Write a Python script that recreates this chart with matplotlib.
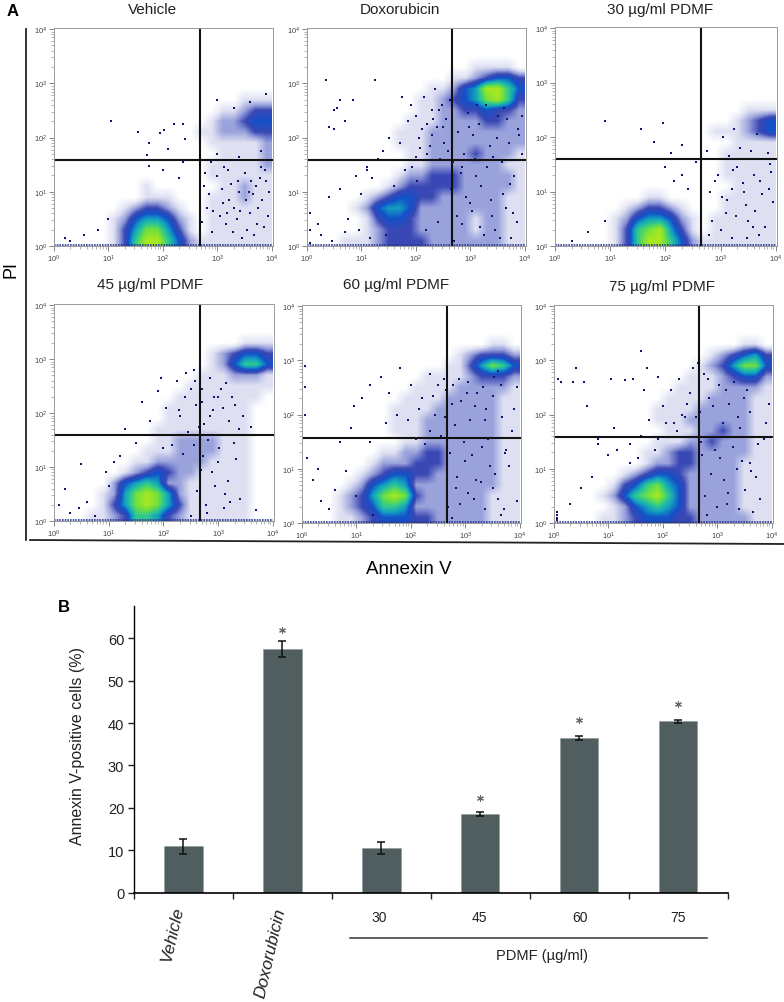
import matplotlib
matplotlib.use("Agg")
import matplotlib.pyplot as plt
import numpy as np
from matplotlib.colors import LinearSegmentedColormap

plt.rcParams['font.family'] = ['Liberation Sans', 'DejaVu Sans']
plt.rcParams['mathtext.default'] = 'regular'

W, H = 784, 1003

# density: rows run from PI 10^4 down to 10^0, columns
# from Annexin 10^0 to 10^4, 0.2 decades per cell
vehicle_grid = [
    "00000000000000000000", "00000000000000000000", "00000000000000000000", "00000000000000000000",
    "00000000000000000000", "00000000000000000000", "00000000000000000111", "00000000000000011233",
    "00000000000000122344", "00000000000001122233", "00000000000000111112", "00000000000000011112",
    "00000000000000111112", "00000000000000111111", "00000000100000011211", "00000000111000111211",
    "00000012332100111111", "00000124554210111111", "00000135775310111111", "00000136886421111111",
]
dox_grid = [
    "00000000000000000000", "00000000000000000000", "00000000000000000000", "00000000000000011110",
    "00000000000001123443", "00000000000112458864", "00000000001123457863", "00000000001122334332",
    "00000000011122223322", "00000000111222222222", "00000000111222222222", "00000000011222232221",
    "00000000011222222211", "00000000122333222221", "00000001233333222221", "00000123443322222211",
    "00001245542222222211", "00000134432222212211", "00000123332222212211", "00011123333222222211",
]
pdmf30_grid = [
    "00000000000000000000", "00000000000000000000", "00000000000000000000", "00000000000000000000",
    "00000000000000000000", "00000000000000000000", "00000000000000000000", "00000000000000000111",
    "00000000000000001234", "00000000000000111234", "00000000000000001111", "00000000000000011111",
    "00000000000000011111", "00000000000000011111", "00000000000000001111", "00000000110000011111",
    "00000012332100011111", "00000124554210111111", "00000136785310111111", "00000136886421111111",
]
pdmf45_grid = [
    "00000000000000000000", "00000000000000000000", "00000000000000000000", "00000000000000000111",
    "00000000000000123443", "00000000000000124664", "00000000000001112221", "00000000000011111111",
    "00000000000111111110", "00000000001111111100", "00000000001111111100", "00000000011111111100",
    "00000000011222211100", "00000000111222211100", "00000001122222111100", "00000012343221111100",
    "00000245652211111100", "00001257875211111100", "00001357875311111100", "00011236653211111100",
]
pdmf60_grid = [
    "00000000000000000000", "00000000000000000000", "00000000000000000000", "00000000000000000110",
    "00000000000000123332", "00000000000001135764", "00000000000111123332", "00000000001111222221",
    "00000000011112222211", "00000000111122222211", "00000000111222222211", "00000000111222222211",
    "00000000011222222211", "00000001122332222211", "00000012223332222211", "00000123443322222211",
    "00001245652222222211", "00012357873222222111", "00012346652222222111", "00011234443322222111",
]
pdmf75_grid = [
    "00000000000000000000", "00000000000000000000", "00000000000000000000", "00000000000000000110",
    "00000000000000123453", "00000000000001235774", "00000000000011123442", "00000000000111122221",
    "00000000001111222211", "00000000011112222211", "00000000011122222211", "00000000001112232211",
    "00000000011122322211", "00000000112332222211", "00000000122332222111", "00000012344322222111",
    "00000134675422222111", "00001246786422222111", "00000124565422222111", "00001123444332222211",
]

# single events outside the dense regions, log10 units
vehicle_x = [1.05, 1.55, 1.75, 1.7, 2.02, 2.2, 2.37, 2.4, 1.95, 2.1, 2.37, 1.75, 2.0, 2.3, 2.75, 2.85, 3.0, 3.1, 3.2, 3.3, 3.4, 3.5, 3.6, 3.7, 3.8, 3.9, 3.15, 3.35, 3.55, 3.75, 3.95, 2.9, 3.05, 3.25, 3.45, 3.65, 3.85, 2.8, 3.0, 3.3, 3.6, 3.9, 0.3, 0.55, 0.8, 1.0, 0.2, 3.0, 3.4, 3.8, 2.72, 2.92, 3.12, 3.22, 3.42, 3.62, 3.72, 3.82, 2.78, 3.08, 3.28, 3.52, 3.78, 3.92, 2.88, 3.18, 3.38, 3.58, 3.68, 3.88]
vehicle_y = [2.3, 2.1, 1.9, 1.67, 2.13, 2.25, 2.25, 1.97, 2.08, 1.78, 1.55, 1.47, 1.4, 1.25, 1.1, 0.95, 1.3, 0.8, 1.4, 0.7, 1.0, 1.35, 0.6, 1.1, 1.45, 1.2, 0.4, 0.5, 0.3, 0.7, 1.0, 0.25, 0.55, 1.15, 0.15, 0.95, 0.35, 0.7, 2.7, 2.55, 2.65, 2.8, 0.1, 0.2, 0.3, 0.5, 0.15, 1.7, 1.65, 1.75, 0.45, 0.65, 1.45, 0.85, 0.65, 1.2, 0.4, 0.85, 1.35, 1.05, 0.25, 0.85, 1.25, 0.55, 1.55, 0.6, 1.2, 1.0, 0.2, 1.4]
dox_x = [0.35, 0.55, 0.5, 0.7, 1.25, 0.85, 0.6, 0.4, 0.5, 1.1, 1.6, 1.75, 1.9, 2.0, 2.2, 1.5, 1.7, 2.3, 1.4, 1.3, 1.1, 0.9, 0.6, 0.4, 0.2, 0.05, 0.05, 0.05, 0.75, 0.95, 1.15, 1.45, 1.85, 2.05, 2.15, 2.35, 2.45, 2.55, 2.7, 2.85, 3.0, 3.2, 3.4, 3.6, 3.8, 3.95, 0.25, 0.45, 0.7, 1.0, 1.2, 2.85, 3.05, 3.25, 3.45, 3.65, 3.85, 3.95, 3.9, 3.75, 2.75, 2.92, 3.1, 3.3, 3.55, 3.72, 2.65, 2.82, 3.02, 3.18, 3.38, 3.58, 3.78, 2.58, 2.78, 2.95, 3.15, 3.35, 3.5, 3.7, 3.88, 2.62, 2.88, 3.08, 3.28, 3.48, 3.68, 2.5, 2.68, 2.98, 3.12, 3.42, 3.62, 2.2, 2.3, 2.42, 2.52, 2.0, 2.12, 2.25, 2.38, 1.92, 2.08, 2.32, 2.48, 1.8, 2.02, 2.18, 2.4]
dox_y = [3.07, 2.55, 2.5, 2.3, 3.07, 2.7, 2.7, 2.2, 2.15, 1.45, 1.1, 2.75, 2.6, 2.4, 2.25, 2.0, 1.9, 2.5, 1.75, 1.6, 1.4, 1.3, 1.05, 0.9, 0.4, 0.3, 0.6, 0.05, 0.5, 0.3, 0.15, 0.2, 2.3, 2.0, 2.75, 2.9, 1.6, 2.35, 0.1, 0.4, 0.8, 1.1, 0.55, 0.95, 1.3, 1.7, 0.2, 0.1, 0.25, 0.95, 1.25, 1.45, 2.05, 0.2, 0.3, 0.7, 0.45, 2.4, 2.05, 0.15, 0.55, 0.9, 1.3, 1.45, 0.15, 1.15, 1.05, 1.35, 0.65, 0.35, 0.85, 1.55, 0.6, 1.75, 2.1, 2.45, 2.25, 1.85, 2.4, 1.9, 2.15, 2.7, 1.7, 1.6, 2.6, 2.0, 2.35, 2.2, 1.55, 2.2, 2.6, 1.65, 2.55, 1.7, 2.05, 2.5, 1.9, 1.65, 2.15, 1.85, 2.2, 1.45, 1.8, 2.35, 2.6, 1.4, 1.2, 0.3, 0.45]
pdmf30_x = [0.9, 1.55, 1.8, 1.95, 2.1, 2.3, 2.55, 2.3, 2.15, 2.0, 2.4, 2.8, 2.95, 3.1, 3.2, 3.3, 3.45, 3.6, 3.75, 3.9, 3.0, 3.2, 3.5, 3.7, 3.95, 2.85, 3.35, 3.55, 3.85, 0.3, 0.6, 0.9, 3.05, 3.25, 3.65, 2.75, 3.15, 3.4, 3.8, 2.9, 3.12, 3.28, 3.42, 3.58, 3.72, 3.88, 2.78, 3.02, 3.22, 3.48, 3.62, 3.92]
pdmf30_y = [2.3, 2.15, 1.9, 2.25, 1.7, 1.85, 1.55, 1.3, 1.2, 1.45, 1.05, 1.0, 1.3, 0.6, 1.05, 1.45, 0.75, 1.3, 0.95, 1.5, 0.3, 0.15, 0.45, 0.2, 0.8, 0.45, 1.8, 1.75, 1.7, 0.1, 0.25, 0.45, 2.0, 2.15, 2.05, 1.75, 1.65, 1.15, 0.35, 1.2, 0.85, 0.55, 1.0, 0.35, 1.2, 1.05, 0.2, 0.9, 1.4, 0.15, 0.65, 1.35]
pdmf45_x = [0.1, 0.2, 0.3, 0.45, 0.6, 0.75, 1.0, 1.1, 1.35, 1.6, 1.75, 1.9, 2.05, 2.25, 2.4, 2.55, 2.7, 2.85, 3.0, 3.15, 3.3, 3.45, 3.6, 2.3, 2.45, 2.6, 2.75, 2.9, 3.05, 3.2, 1.95, 2.15, 1.5, 1.2, 2.5, 2.8, 3.1, 3.4, 3.7, 0.95, 1.3, 0.5, 2.72, 2.88, 3.02, 3.18, 3.32, 2.62, 2.78, 2.95, 3.12, 3.28, 2.55, 2.68, 2.82, 3.0, 3.22, 3.38, 2.65, 2.92, 3.08, 2.35, 2.5, 2.15, 2.0, 2.28, 2.42, 2.58, 2.7, 2.85, 3.05, 3.25]
pdmf45_y = [0.3, 0.6, 0.15, 0.25, 0.35, 0.1, 0.65, 1.1, 1.6, 2.2, 1.85, 2.4, 2.1, 2.6, 2.3, 2.8, 2.45, 2.65, 2.3, 2.55, 2.15, 1.95, 1.75, 1.95, 1.65, 2.15, 1.8, 2.05, 1.6, 1.85, 2.65, 1.4, 1.45, 1.2, 0.1, 0.15, 0.25, 0.4, 0.2, 0.9, 1.7, 1.05, 1.2, 0.9, 1.35, 0.75, 1.15, 0.55, 0.3, 0.65, 0.5, 1.45, 1.4, 0.95, 1.5, 1.1, 0.35, 1.7, 1.75, 2.3, 2.1, 1.25, 2.45, 1.6, 1.35, 2.05, 2.75, 2.6, 2.2, 1.95, 2.45, 2.3]
pdmf60_x = [0.05, 0.05, 0.05, 0.1, 0.2, 0.35, 0.5, 0.7, 0.9, 1.1, 1.25, 0.95, 1.45, 1.6, 1.8, 2.0, 2.2, 2.35, 2.5, 1.25, 1.55, 1.75, 1.95, 2.15, 2.4, 2.6, 2.75, 2.9, 3.05, 3.2, 3.35, 3.5, 3.65, 3.8, 3.95, 0.6, 0.8, 1.0, 1.3, 0.3, 3.95, 3.9, 3.85, 3.75, 3.6, 2.72, 2.85, 3.0, 3.15, 3.3, 3.45, 3.6, 3.72, 2.68, 2.82, 2.98, 3.12, 3.28, 3.42, 3.55, 3.7, 2.78, 2.92, 3.08, 3.22, 3.38, 3.52, 3.68, 2.62, 2.75, 2.88, 3.02, 3.18, 3.32, 2.45, 2.55, 2.35, 2.25, 2.1, 2.65, 2.8, 3.05, 3.35, 3.5, 3.65]
pdmf60_y = [2.9, 2.5, 2.0, 1.2, 0.8, 0.4, 0.25, 1.5, 1.75, 2.3, 2.55, 2.15, 2.7, 2.4, 2.85, 2.55, 2.3, 2.75, 2.55, 1.5, 1.85, 2.0, 1.9, 2.1, 2.35, 2.65, 0.1, 0.35, 0.55, 0.8, 0.25, 0.65, 0.15, 1.05, 0.4, 0.6, 0.95, 0.5, 0.15, 1.0, 2.5, 2.1, 1.7, 1.35, 2.8, 1.3, 0.85, 1.15, 0.45, 1.4, 1.05, 0.45, 1.3, 0.3, 0.65, 1.5, 1.25, 0.75, 1.55, 0.9, 0.25, 2.55, 2.25, 1.9, 2.4, 2.1, 2.7, 1.95, 1.95, 2.2, 2.65, 2.4, 2.15, 2.5, 2.0, 1.6, 1.7, 1.45, 1.55, 2.45, 1.8, 2.6, 1.9, 2.35, 2.55]
pdmf75_x = [0.08, 0.12, 0.4, 0.35, 0.55, 0.6, 1.3, 1.6, 1.45, 1.7, 1.65, 1.05, 0.8, 1.1, 1.4, 1.6, 1.75, 1.9, 2.0, 2.15, 2.3, 2.45, 2.55, 2.65, 1.9, 2.05, 2.25, 2.4, 0.8, 1.0, 1.15, 1.4, 1.55, 1.85, 0.5, 0.7, 0.3, 0.05, 0.05, 0.05, 0.05, 3.95, 3.9, 3.75, 3.6, 2.8, 3.0, 3.2, 3.4, 3.7, 2.72, 2.88, 3.05, 3.18, 3.35, 3.5, 3.65, 2.78, 2.95, 3.12, 3.28, 3.45, 3.62, 3.78, 2.68, 2.85, 3.02, 3.22, 3.38, 3.55, 2.75, 2.92, 3.1, 3.3, 3.48, 2.6, 2.5, 2.35, 2.2, 2.7, 2.82, 3.15, 3.42, 3.6, 3.85]
pdmf75_y = [2.65, 2.6, 2.85, 2.6, 2.6, 2.15, 2.63, 3.17, 2.65, 2.85, 2.45, 2.65, 1.55, 1.75, 1.45, 1.6, 1.9, 2.7, 2.15, 2.45, 2.65, 2.2, 2.85, 2.95, 1.55, 1.85, 1.7, 1.95, 1.45, 1.25, 1.35, 1.1, 1.2, 1.35, 0.65, 0.85, 0.35, 0.2, 0.1, 0.15, 0.05, 2.2, 1.85, 1.45, 1.1, 0.15, 0.3, 0.55, 0.25, 0.85, 1.25, 0.9, 1.2, 0.35, 1.0, 0.6, 0.2, 0.5, 1.35, 0.8, 1.4, 1.15, 0.95, 0.45, 2.05, 2.3, 2.55, 2.2, 1.95, 2.45, 2.75, 2.15, 1.85, 2.6, 2.3, 1.95, 2.4, 2.0, 1.85, 1.5, 2.65, 2.45, 1.75, 2.05, 1.55]

panel_titles = ["Vehicle", "Doxorubicin", "30 µg/ml PDMF", "45 µg/ml PDMF", "60 µg/ml PDMF", "75 µg/ml PDMF"]
panel_grids = [vehicle_grid, dox_grid, pdmf30_grid, pdmf45_grid, pdmf60_grid, pdmf75_grid]
panel_x = [vehicle_x, dox_x, pdmf30_x, pdmf45_x, pdmf60_x, pdmf75_x]
panel_y = [vehicle_y, dox_y, pdmf30_y, pdmf45_y, pdmf60_y, pdmf75_y]
# left, right, top, bottom, vertical gate, horizontal gate (pixels)
panel_boxes = [(54, 273, 29, 247, 200, 161), (307, 526, 29, 247, 452, 161), (555, 777, 28, 247, 701, 160),
               (54, 274, 305, 522, 200, 436), (302, 521, 306, 524, 447, 439), (554, 773, 306, 524, 699, 438)]
title_pos = [(153, 10), (400, 10), (660, 10), (150, 285), (396, 285), (662, 287)]

bar_labels = ["30", "45", "60", "75"]
bar_values = [10.9, 57.5, 10.5, 18.5, 36.5, 40.4]
bar_errors = [1.7, 1.9, 1.4, 0.5, 0.5, 0.3]
star_idx = [1, 3, 4, 5]
star_y = [62.0, 22.3, 40.7, 44.4]

dot_cmap = LinearSegmentedColormap.from_list(
    "flow", ["#ffffff", "#dfe1f3", "#9aa3dc", "#3a48b4", "#1450c8", "#12a0c0", "#30c890", "#70e040", "#a8e820"])


def add_ax(left, right, top, bottom):
    return fig.add_axes([left / W, 1 - bottom / H, (right - left) / W, (bottom - top) / H])


fig = plt.figure(figsize=(W / 100, H / 100), dpi=100)

minor = np.log10([2, 3, 4, 5, 6, 7, 8, 9])
minor_ticks = np.concatenate([minor + d for d in range(4)])
for i in range(6):
    left, right, top, bottom, vgate, hgate = panel_boxes[i]
    ax = add_ax(left, right, top, bottom)
    grid = np.array([[int(c) for c in row] for row in panel_grids[i]])
    ax.imshow(grid, extent=(0, 4, 0, 4), origin="upper", cmap=dot_cmap, vmin=0, vmax=8,
              interpolation="bilinear", aspect="auto")
    ax.scatter(panel_x[i], panel_y[i], s=4, marker="s", color="#14146e", linewidths=0)
    ax.plot([0, 4], [0.01, 0.01], color="#2a3a90", lw=1.2, ls=(0, (1, 0.6)))
    ax.set_xlim(0, 4.02)
    ax.set_ylim(0, 4.02)
    ax.axvline((vgate - left) / (right - left) * 4.02, color="#111111", lw=1.5)
    ax.axhline((bottom - hgate) / (bottom - top) * 4.02, color="#111111", lw=1.5)
    for s in ax.spines.values():
        s.set_color("#9a9a9a")
        s.set_linewidth(0.7)
    ax.set_xticks(range(5))
    ax.set_yticks(range(5))
    ax.set_xticklabels([f"$10^{d}$" for d in range(5)])
    ax.set_yticklabels([f"$10^{d}$" for d in range(5)])
    ax.set_xticks(minor_ticks, minor=True)
    ax.set_yticks(minor_ticks, minor=True)
    ax.tick_params(which="major", length=3.5, width=0.5, color="#555555", labelsize=5.5,
                   labelcolor="#444444", pad=1.5)
    ax.tick_params(which="minor", length=2, width=0.4, color="#777777")
    fig.text(title_pos[i][0] / W, 1 - title_pos[i][1] / H, panel_titles[i], ha="center", va="center",
             fontsize=11, color="#222222")

# frame lines of panel A
fig.add_artist(plt.Line2D([26 / W, 26 / W], [1 - 30 / H, 1 - 541 / H], color="#222222", lw=1.3))
fig.add_artist(plt.Line2D([30 / W, 784 / W], [1 - 541 / H, 1 - 545 / H], color="#222222", lw=1.3))
fig.text(7 / W, 1 - 12 / H, "A", fontsize=12, fontweight="bold", ha="left", va="center")
fig.text(11 / W, 1 - 270 / H, "PI", rotation=90, fontsize=13, ha="center", va="center")
fig.text(409 / W, 1 - 569 / H, "Annexin V", fontsize=13.5, ha="center", va="center")
fig.text(58 / W, 1 - 608 / H, "B", fontsize=12, fontweight="bold", ha="left", va="center")

# panel B
ax = add_ax(134, 727.5, 607, 893.7)
pos = np.arange(6) + 0.5
ax.bar(pos, bar_values, width=0.39, color="#515e5f", edgecolor="#8f9999", linewidth=0.4)
ax.errorbar(pos, bar_values, yerr=bar_errors, fmt="none", ecolor="#111111", elinewidth=1.1, capsize=3, capthick=1.1)
ax.scatter(pos[star_idx], star_y, marker=(6, 2, 0), s=18, color="#666666", linewidths=0.8)
ax.set_xlim(0, 6)
ax.set_ylim(0, 67.6)
ax.spines["top"].set_visible(False)
ax.spines["right"].set_visible(False)
ax.spines["left"].set_linewidth(1.0)
ax.spines["bottom"].set_linewidth(1.2)
ax.set_xticks(range(7))
ax.set_xticklabels([])
ax.set_yticks(range(0, 61, 10))
ax.tick_params(axis="y", length=4, width=1, labelsize=10.5, pad=3, colors="#222222")
ax.tick_params(axis="x", length=4, width=1, direction="out", colors="#222222")
ax.set_ylabel("Annexin V-positive cells (%)", fontsize=11.5, color="#222222")
ax.yaxis.set_label_coords((85 - 134) / (727.5 - 134), (893.7 - 746) / (893.7 - 607))

for label, x in zip(bar_labels, [379, 479, 580, 678]):
    fig.text(x / W, 1 - 918 / H, label, fontsize=10, ha="center", va="center", color="#222222")
fig.add_artist(plt.Line2D([350 / W, 707 / W], [1 - 939 / H, 1 - 939 / H], color="#333333", lw=1.1))
fig.text(542 / W, 1 - 956 / H, "PDMF (µg/ml)", fontsize=10.5, ha="center", va="center", color="#222222")
fig.text(172 / W, 1 - 935 / H, "Vehicle", fontsize=12.5, style="italic", rotation=77, ha="center", va="center", color="#222222")
fig.text(270 / W, 1 - 953 / H, "Doxorubicin", fontsize=12.5, style="italic", rotation=77, ha="center", va="center", color="#222222")

fig.savefig("out.png", dpi=100)
